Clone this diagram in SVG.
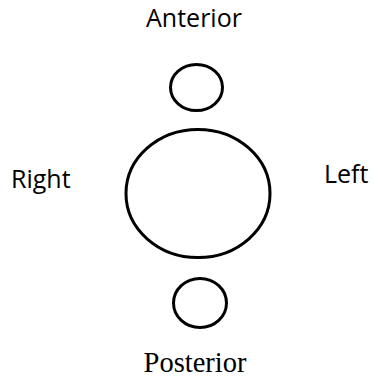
<svg xmlns="http://www.w3.org/2000/svg" width="374" height="381" viewBox="0 0 374 381">
<style>
.s{fill:none;stroke:#000;stroke-width:3}
.t{font-family:"Open Sans","Noto Sans",sans-serif;font-size:25px;fill:#000}
.p{font-family:"Liberation Serif",serif;font-size:28.5px;fill:#000}
</style>
<rect width="374" height="381" fill="#fff"/>
<g id="anterior-label"><text class="t" x="194" y="27" text-anchor="middle">Anterior</text></g>
<g id="anterior-circle"><ellipse class="s" cx="196.5" cy="87.5" rx="26" ry="23"/></g>
<g id="main-ellipse"><ellipse class="s" cx="198" cy="193.5" rx="72" ry="64"/></g>
<g id="right-label"><text class="t" x="11" y="188">Right</text></g>
<g id="left-label"><text class="t" x="324" y="183">Left</text></g>
<g id="posterior-circle"><ellipse class="s" cx="200" cy="303" rx="26.5" ry="24.5"/></g>
<g id="posterior-label"><text class="p" x="195" y="372" text-anchor="middle">Posterior</text></g>
<g id="connectors"></g>
</svg>
